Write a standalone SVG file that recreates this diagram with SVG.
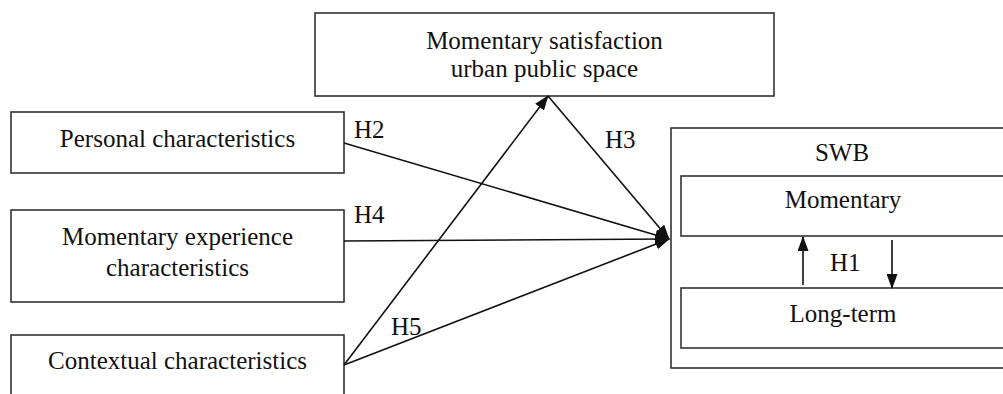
<svg xmlns="http://www.w3.org/2000/svg" width="1003" height="394" viewBox="0 0 1003 394">
<style>
.box{fill:#fff;stroke:#333;stroke-width:1.6}
.t{font-family:"Liberation Serif","Times New Roman",serif;font-size:25px;fill:#111;text-anchor:middle}
.h{font-family:"Liberation Serif","Times New Roman",serif;font-size:25px;fill:#111}
.c{stroke:#111;stroke-width:1.6;fill:none;marker-end:url(#ah)}
</style>
<defs>
<marker id="ah" markerWidth="15" markerHeight="11" refX="14" refY="5.5" orient="auto" markerUnits="userSpaceOnUse">
<path d="M0,0 L15,5.5 L0,11 Z" fill="#111"/>
</marker>
</defs>
<rect width="1003" height="394" fill="#fff"/>
<g id="satisfaction">
<rect class="box" x="315" y="13" width="459" height="83"/>
<text class="t" x="544.5" y="49">Momentary satisfaction</text>
<text class="t" x="544.5" y="77">urban public space</text>
</g>
<g id="personal">
<rect class="box" x="11" y="112" width="333" height="61"/>
<text class="t" x="177.5" y="147">Personal characteristics</text>
</g>
<g id="experience">
<rect class="box" x="11" y="210" width="333" height="92"/>
<text class="t" x="177.5" y="245">Momentary experience</text>
<text class="t" x="177.5" y="276">characteristics</text>
</g>
<g id="contextual">
<rect class="box" x="11" y="335" width="333" height="80"/>
<text class="t" x="177.5" y="369">Contextual characteristics</text>
</g>
<g id="swb">
<rect class="box" x="671" y="128" width="360" height="240"/>
<text class="t" x="842" y="161">SWB</text>
</g>
<g id="momentary">
<rect class="box" x="681" y="176" width="340" height="60"/>
<text class="t" x="843" y="208">Momentary</text>
</g>
<g id="longterm">
<rect class="box" x="681" y="288" width="340" height="60"/>
<text class="t" x="843" y="322">Long-term</text>
</g>
<g id="connectors">
<line class="c" x1="344" y1="143" x2="669" y2="239"/>
<line class="c" x1="344" y1="241" x2="669" y2="239"/>
<line class="c" x1="344" y1="365" x2="669" y2="239"/>
<line class="c" x1="548" y1="96" x2="669" y2="239"/>
<line class="c" x1="344" y1="365" x2="548" y2="96"/>
<line class="c" x1="803" y1="285" x2="803" y2="237"/>
<line class="c" x1="892" y1="240" x2="892" y2="288"/>
<text class="h" x="354" y="138">H2</text>
<text class="h" x="605" y="148">H3</text>
<text class="h" x="354" y="223">H4</text>
<text class="h" x="391" y="335">H5</text>
<text class="h" x="830" y="271">H1</text>
</g>
</svg>
